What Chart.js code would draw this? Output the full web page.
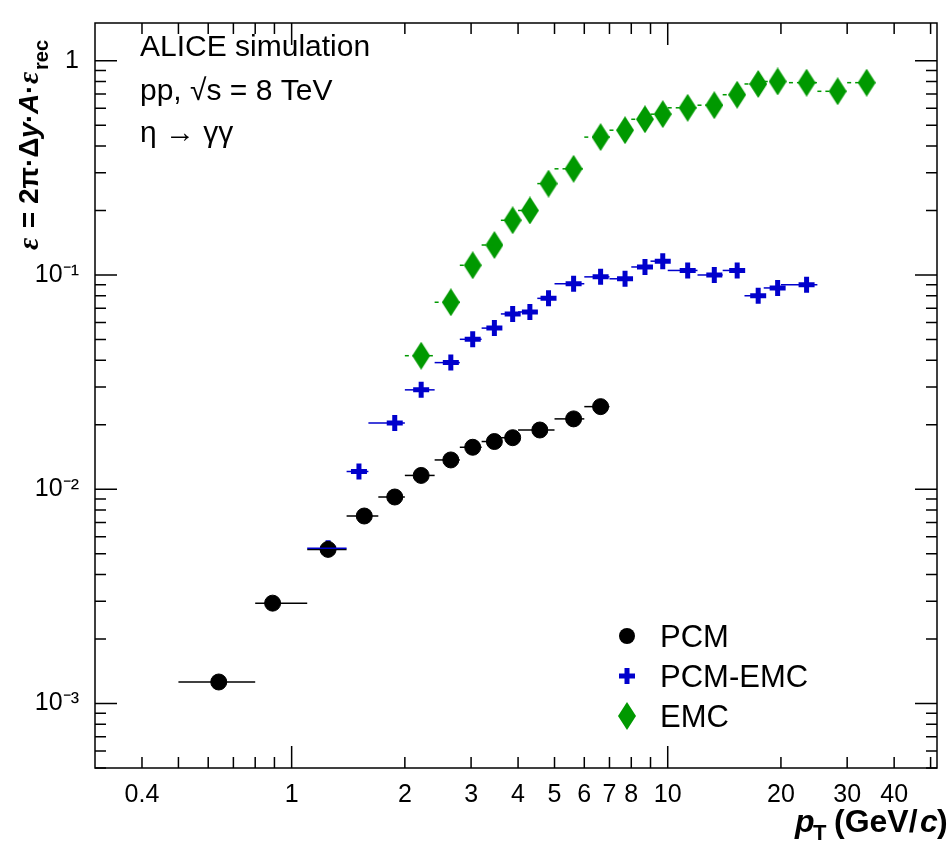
<!DOCTYPE html>
<html><head><meta charset="utf-8">
<script src="https://cdn.jsdelivr.net/npm/chart.js@4/dist/chart.umd.min.js"></script>
<style>body{margin:0;background:#fff}#c{display:block}</style>
</head><body>
<canvas id="c" width="950" height="849"></canvas>
<script>
// data
const pcmX = [0.64,0.89,1.25,1.56,1.88,2.21,2.65,3.03,3.46,3.87,4.57,5.62,6.63]
const pcmY = [0.00126,0.00294,0.00524,0.0075,0.0092,0.0116,0.0137,0.0157,0.0167,0.0174,0.0189,0.0213,0.0243]
const pcmEdges = [0.5,0.8,1.1,1.4,1.7,2.0,2.4,2.8,3.2,3.6,4.0,5.0,6.0,7.0]

const pcmEmcX = [1.25,1.51,1.88,2.21,2.65,3.03,3.46,3.87,4.3,4.82,5.62,6.63,7.7,8.7,9.7,11.3,13.3,15.3,17.4,19.6,23.4]
const pcmEmcY = [0.0053,0.0121,0.0204,0.0291,0.039,0.0501,0.0565,0.0658,0.0672,0.0778,0.091,0.098,0.096,0.109,0.116,0.105,0.1,0.105,0.080,0.087,0.09]
const pcmEmcEdges = [1.1,1.4,1.6,2.0,2.4,2.8,3.2,3.6,4.0,4.5,5.0,6.0,7.0,8.0,9.0,10,12,14,16,18,20,25]

const emcX = [2.21,2.65,3.03,3.46,3.87,4.3,4.82,5.62,6.63,7.7,8.7,9.7,11.3,13.3,15.3,17.4,19.6,23.4,28.3,33.8]
const emcY = [0.042,0.0746,0.111,0.138,0.18,0.2,0.267,0.313,0.44,0.474,0.533,0.563,0.603,0.62,0.694,0.779,0.8,0.79,0.72,0.79]
const emcEdges = [2.0,2.4,2.8,3.2,3.6,4.0,4.5,5.0,6.0,7.0,8.0,9.0,10,12,14,16,18,20,25,30,35]

const xLabels = [0.4,1,2,3,4,5,6,7,8,10,20,30,40]
const yLabels = {0.001:'10\u207B\u00B3',0.01:'10\u207B\u00B2',0.1:'10\u207B\u00B9',1:'1'}

function pts(xs, ys){ return xs.map((x,i)=>({x:x,y:ys[i]})) }

// tall diamond marker
const diamond = document.createElement('canvas')
diamond.width = 18; diamond.height = 28
let dc = diamond.getContext('2d')
dc.fillStyle = '#009900'
dc.beginPath(); dc.moveTo(9,0); dc.lineTo(18,14); dc.lineTo(9,28); dc.lineTo(0,14); dc.closePath(); dc.fill()

// minor + major ticks for the log axes
let xTicks = []
for (let d of [0.1,1,10]) for (let k=1;k<10;k++){ let v=+(k*d).toPrecision(3); if(v>=0.33&&v<=52) xTicks.push(v) }
let yTicks = []
for (let d of [0.0001,0.001,0.01,0.1,1]) for (let k=1;k<10;k++){ let v=+(k*d).toPrecision(3); if(v>=0.0005&&v<=1.5) yTicks.push(v) }

const errPlugin = {
  id:'extras',
  afterDatasetsDraw(chart){
    const c = chart.ctx, xs = chart.scales.x, ys = chart.scales.y, a = chart.chartArea
    const sets = [[pcmX,pcmY,pcmEdges,'#000','solid'],[pcmEmcX,pcmEmcY,pcmEmcEdges,'#0000cc','solid'],[emcX,emcY,emcEdges,'#009900','dash']]
    c.save()
    sets.forEach(s=>{
      c.strokeStyle = s[3]; c.lineWidth = 1.5
      c.setLineDash(s[4]=='dash'?[4,4]:[])
      s[0].forEach((x,i)=>{
        let py = ys.getPixelForValue(s[1][i])
        c.beginPath()
        c.moveTo(xs.getPixelForValue(s[2][i]),py)
        c.lineTo(xs.getPixelForValue(s[2][i+1]),py)
        c.stroke()
      })
    })
    c.setLineDash([])
    // frame + inner ticks
    c.strokeStyle='#000'; c.lineWidth=1.5
    c.strokeRect(a.left,a.top,a.right-a.left,a.bottom-a.top)
    xTicks.forEach(v=>{
      let px = xs.getPixelForValue(v), major = [0.1,1,10,100].includes(v), L = major?22:11
      c.beginPath(); c.moveTo(px,a.bottom); c.lineTo(px,a.bottom-L); c.moveTo(px,a.top); c.lineTo(px,a.top+L); c.stroke()
    })
    yTicks.forEach(v=>{
      let py = ys.getPixelForValue(v), major = yLabels[v]!==undefined, L = major?22:11
      c.beginPath(); c.moveTo(a.left,py); c.lineTo(a.left+L,py); c.moveTo(a.right,py); c.lineTo(a.right-L,py); c.stroke()
    })
    // text
    c.fillStyle='#000'; c.textBaseline='alphabetic'
    c.font='30px "Liberation Sans"'
    c.fillText('ALICE simulation',140,56)
    c.fillText('pp, \u221As = 8 TeV',140,100)
    c.fillText('\u03B7 \u2192 \u03B3\u03B3',140,142)
    // legend
    const leg = [['PCM','circle','#000'],['PCM-EMC','cross','#0000cc'],['EMC','diamond','#009900']]
    leg.forEach((l,i)=>{
      let y = 636 + i*40
      c.fillStyle=l[2]; c.strokeStyle=l[2]
      if(l[1]=='circle'){ c.beginPath(); c.arc(627,y,8,0,Math.PI*2); c.fill() }
      else if(l[1]=='cross'){ c.lineWidth=5; c.beginPath(); c.moveTo(619,y); c.lineTo(635,y); c.moveTo(627,y-8); c.lineTo(627,y+8); c.stroke() }
      else c.drawImage(diamond,618,y-14)
      c.fillStyle='#000'; c.font='31px "Liberation Sans"'
      c.fillText(l[0],660,y+11)
    })
    // x title
    c.font='bold italic 32px "Liberation Sans"'
    c.fillText('p',795,832)
    c.font='bold 22px "Liberation Sans"'; c.fillText('T',813,840)
    c.font='bold 32px "Liberation Sans"'; c.fillText('(GeV/',834,832)
    c.font='bold italic 32px "Liberation Sans"'; c.fillText('c',920,832)
    c.font='bold 32px "Liberation Sans"'; c.fillText(')',937,832)
    // y title
    c.translate(38,250); c.rotate(-Math.PI/2)
    c.font='bold italic 30px "Liberation Serif"'; c.fillText('\u03B5',0,0)
    c.font='bold 28px "Liberation Sans"'; c.fillText(' = 2\u03C0\u00B7\u0394',14,0)
    c.font='bold italic 28px "Liberation Sans"'; c.fillText('y',112,0)
    c.font='bold 28px "Liberation Sans"'; c.fillText('\u00B7',127,0)
    c.font='bold italic 28px "Liberation Sans"'; c.fillText('A',136,0)
    c.font='bold 28px "Liberation Sans"'; c.fillText('\u00B7',156,0)
    c.font='bold italic 30px "Liberation Serif"'; c.fillText('\u03B5',166,0)
    c.font='bold 20px "Liberation Sans"'; c.fillText('rec',180,10)
    c.restore()
  }
}

new Chart(document.getElementById('c'), {
  type:'scatter',
  data:{datasets:[
    {label:'PCM',data:pts(pcmX,pcmY),pointStyle:'circle',pointRadius:8,backgroundColor:'#000',borderColor:'#000'},
    {label:'PCM-EMC',data:pts(pcmEmcX,pcmEmcY),pointStyle:'cross',pointRadius:8,borderWidth:5,backgroundColor:'#0000cc',borderColor:'#0000cc'},
    {label:'EMC',data:pts(emcX,emcY),pointStyle:diamond,backgroundColor:'#009900',borderColor:'#009900'}
  ]},
  options:{
    responsive:false, animation:false,
    layout:{padding:{top:-16,right:-10,left:0,bottom:0}},
    plugins:{legend:{display:false},tooltip:{enabled:false}},
    scales:{
      x:{type:'logarithmic',min:0.33,max:52,
        afterBuildTicks:s=>{s.ticks=xLabels.map(v=>({value:v}))},
        afterFit:s=>{s.height=81},
        grid:{display:false},border:{display:false},
        ticks:{autoSkip:false,maxRotation:0,color:'#000',font:{family:'Liberation Sans',size:25},padding:4,callback:v=>String(v)}},
      y:{type:'logarithmic',min:0.0005,max:1.5,
        afterBuildTicks:s=>{s.ticks=Object.keys(yLabels).map(v=>({value:+v}))},
        afterFit:s=>{s.width=95},
        grid:{display:false},border:{display:false},
        ticks:{autoSkip:false,color:'#000',font:{family:'Liberation Sans',size:25},padding:8,callback:v=>yLabels[v]||''}}
    }
  },
  plugins:[errPlugin]
})
</script>
</body></html>
